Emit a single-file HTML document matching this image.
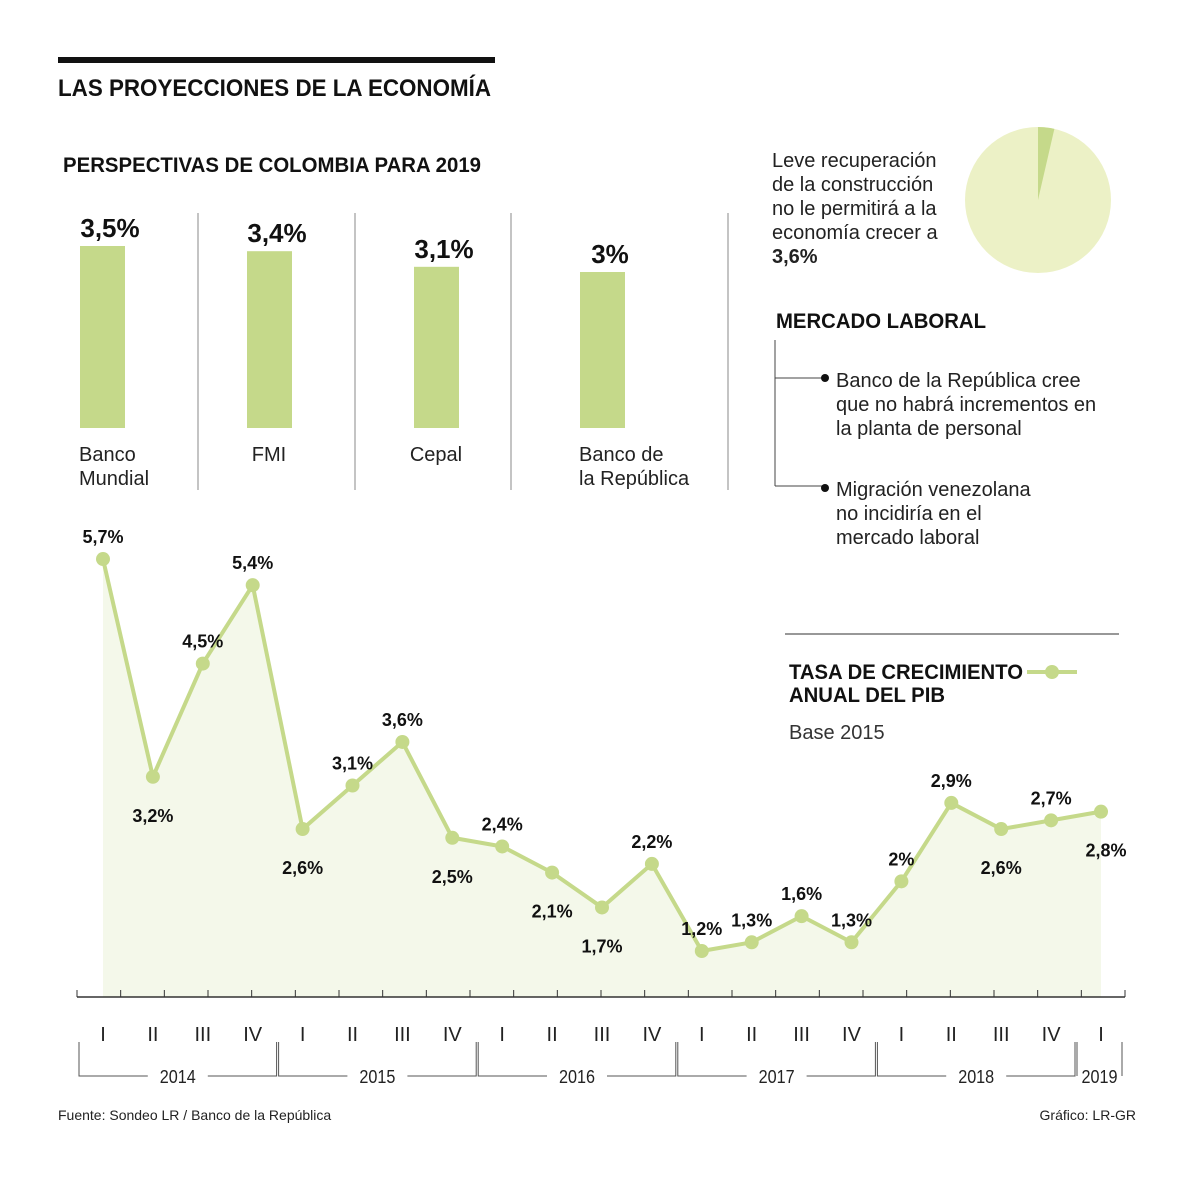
<!DOCTYPE html>
<html><head><meta charset="utf-8"><style>
body{margin:0;background:#fff;}
svg{display:block;font-family:"Liberation Sans Narrow","Liberation Sans",sans-serif;}
.b{font-weight:bold;}
</style></head><body>
<svg id="s" width="1200" height="1179" viewBox="0 0 1200 1179" xmlns="http://www.w3.org/2000/svg">
<rect x="58" y="57" width="437" height="6" fill="#111"/>
<text x="58" y="96" font-size="24" class="b" fill="#111" textLength="433" lengthAdjust="spacingAndGlyphs">LAS PROYECCIONES DE LA ECONOMÍA</text>
<text x="63" y="172" font-size="21" class="b" fill="#111" textLength="418" lengthAdjust="spacingAndGlyphs">PERSPECTIVAS DE COLOMBIA PARA 2019</text>
<g id="bars"></g>
<g>
<text font-size="20" fill="#222"><tspan x="772" y="167">Leve recuperación</tspan><tspan x="772" y="191">de la construcción</tspan><tspan x="772" y="215">no le permitirá a la</tspan><tspan x="772" y="239">economía crecer a</tspan><tspan x="772" y="263" class="b">3,6%</tspan></text>
<circle cx="1038" cy="200" r="73" fill="#ecf1c6"/>
<path id="slice" fill="#c5d98a"/>
</g>
<g>
<text x="776" y="328" font-size="21" class="b" fill="#111" textLength="210" lengthAdjust="spacingAndGlyphs">MERCADO LABORAL</text>
<path d="M775 340V486M775 378H822M775 486H822" stroke="#444" fill="none"/>
<circle cx="825" cy="378" r="4" fill="#111"/><circle cx="825" cy="488" r="4" fill="#111"/>
<text font-size="20" fill="#222"><tspan x="836" y="387">Banco de la República cree</tspan><tspan x="836" y="411">que no habrá incrementos en</tspan><tspan x="836" y="435">la planta de personal</tspan></text>
<text font-size="20" fill="#222"><tspan x="836" y="496">Migración venezolana</tspan><tspan x="836" y="520">no incidiría en el</tspan><tspan x="836" y="544">mercado laboral</tspan></text>
</g>
<line x1="785" y1="634" x2="1119" y2="634" stroke="#777" stroke-width="1.5"/>
<g>
<text x="789" y="679" font-size="21" class="b" fill="#111" textLength="234" lengthAdjust="spacingAndGlyphs">TASA DE CRECIMIENTO</text>
<text x="789" y="702" font-size="21" class="b" fill="#111" textLength="156" lengthAdjust="spacingAndGlyphs">ANUAL DEL PIB</text>
<line x1="1027" y1="672" x2="1077" y2="672" stroke="#c5d98a" stroke-width="4"/><circle cx="1052" cy="672" r="7" fill="#c5d98a"/>
<text x="789" y="739" font-size="20" fill="#333">Base 2015</text>
</g>
<g id="line"></g>
<text x="58" y="1120" font-size="14" fill="#222">Fuente: Sondeo LR / Banco de la República</text>
<text x="1136" y="1120" font-size="14" fill="#222" text-anchor="end">Gráfico: LR-GR</text>
</svg>
<script>
const barLabels=[["Banco","Mundial"],["FMI"],["Cepal"],["Banco de","la República"]];
const barValues=[3.5,3.4,3.1,3];
const barText=["3,5%","3,4%","3,1%","3%"];
const pieValue=3.6;
const quarters=["I","II","III","IV","I","II","III","IV","I","II","III","IV","I","II","III","IV","I","II","III","IV","I"];
const years=["2014","2015","2016","2017","2018","2019"];
const gdp=[5.7,3.2,4.5,5.4,2.6,3.1,3.6,2.5,2.4,2.1,1.7,2.2,1.2,1.3,1.6,1.3,2,2.9,2.6,2.7,2.8];
const gdpText=["5,7%","3,2%","4,5%","5,4%","2,6%","3,1%","3,6%","2,5%","2,4%","2,1%","1,7%","2,2%","1,2%","1,3%","1,6%","1,3%","2%","2,9%","2,6%","2,7%","2,8%"];
const labelBelow=[0,1,0,0,1,0,0,1,0,1,1,0,0,0,0,0,0,0,1,0,1];
const NS="http://www.w3.org/2000/svg";
function mk(p,t,a){const e=document.createElementNS(NS,t);for(const k in a)e.setAttribute(k,a[k]);p.appendChild(e);return e;}
// bars
const bars=document.getElementById('bars');
const bx=i=>[80,247,414,580][i];
const by=v=>428-v*52;
barValues.forEach((v,i)=>{
 const r=mk(bars,'rect',{x:bx(i),y:by(v),width:45,height:428-by(v),fill:'#c5d98a'});
 
 
 const t=mk(bars,'text',{x:bx(i)+30,y:by(v)-9,'font-size':26,'font-weight':'bold','text-anchor':'middle',fill:'#111'});t.textContent=barText[i];
 
 
 barLabels[i].forEach((l,j)=>{const c=mk(bars,'text',{x:barLabels[i].length>1?bx(i)-1:bx(i)+22,y:461+j*24,'font-size':20,fill:'#222','text-anchor':barLabels[i].length>1?'start':'middle'});c.textContent=l;
 
 });
});
[198,355,511,728].forEach(x=>mk(bars,'line',{x1:x,y1:213,x2:x,y2:490,stroke:'#888'}));
// pie
const a=pieValue/100*2*Math.PI,cx=1038,cy=200,R=73;
document.getElementById('slice').setAttribute('d',`M${cx} ${cy}L${cx} ${cy-R}A${R} ${R} 0 0 1 ${cx+R*Math.sin(a)} ${cy-R*Math.cos(a)}Z`);
// line
const g=document.getElementById('line');
const X=i=>103+i*49.9;
const Y=v=>951-(v-1.2)*87.1;
let area=`M${X(0)} 997`;gdp.forEach((v,i)=>area+=`L${X(i)} ${Y(v)}`);area+=`L${X(gdp.length-1)} 997Z`;
const ar=mk(g,'path',{d:area,fill:'#f4f8ea'});


const ln=mk(g,'polyline',{points:gdp.map((v,i)=>X(i)+','+Y(v)).join(' '),fill:'none',stroke:'#c5d98a','stroke-width':4,'stroke-linejoin':'round'});


gdp.forEach((v,i)=>{
 const c=mk(g,'circle',{cx:X(i),cy:Y(v),r:7,fill:'#c5d98a'});
 
 
 const t=mk(g,'text',{x:X(i)+(i==20?5:0),y:labelBelow[i]?Y(v)+45:Y(v)-16,'font-size':18,'font-weight':'bold','text-anchor':'middle',fill:'#111'});t.textContent=gdpText[i];
 
 
 const q=mk(g,'text',{x:X(i),y:1041,'font-size':20,'text-anchor':'middle',fill:'#222'});q.textContent=quarters[i];
 
 
});
const ax=mk(g,'line',{x1:77,y1:997,x2:1125,y2:997,stroke:'#333','stroke-width':1.5});


for(let k=0;k<=24;k++){const x=77+k*(1048/24);mk(g,'line',{x1:x,y1:990,x2:x,y2:997,stroke:'#333'});}
years.forEach((y,j)=>{
 const s=j==0?79:X(j*4)-24,e=j==5?1122:X(j*4+4)-26,m=(s+e)/2;
 const gap=j==5?0:30;
 mk(g,'path',{d:j==5?`M${s} 1042V1076M${e} 1076V1042`:`M${s} 1042V1076H${m-gap}M${m+gap} 1076H${e}V1042`,stroke:'#555',fill:'none'});
 const t=mk(g,'text',{x:m,y:1083,'font-size':18,'text-anchor':'middle',fill:'#222',textLength:36,lengthAdjust:'spacingAndGlyphs'});t.textContent=y;
 
 
});
</script>
</body></html>
